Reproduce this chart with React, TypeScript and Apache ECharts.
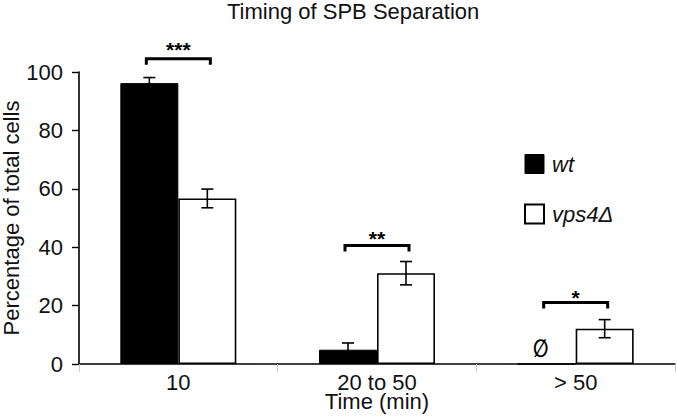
import React, { useEffect, useRef } from "react";
import * as echarts from "echarts";

const categories = ["10", "20 to 50", "> 50"];
const wtMeans = [96.2, 4.9, 0];
const wtErrors = [1.9, 2.3, 0];
const vpsMeans = [56.7, 31.1, 12.1];
const vpsErrors = [3.2, 4.0, 3.1];
const significance = ["***", "**", "*"];
const bracketLevels = [104.5, 40.6, 21.1];
const starLevels = [109.1, 44.2, 24.0];
const absentMarks = ["", "", "\u2205"];

const FONT = "Liberation Sans, Arial, sans-serif";
const BAR_W = 58;

function errorSeries(name: string, means: number[], errs: number[], side: number) {
  return {
    name,
    type: "custom",
    z: 5,
    clip: false,
    silent: true,
    data: means.map((m, i) => (errs[i] > 0 ? [i, m - errs[i], m + errs[i]] : [i, NaN, NaN])),
    renderItem: (params: any, api: any) => {
      const lo = api.value(1);
      const hi = api.value(2);
      if (isNaN(lo) || isNaN(hi)) return null;
      const c = api.value(0);
      const pLo = api.coord([c, lo]);
      const pHi = api.coord([c, hi]);
      const x = pLo[0] + side * BAR_W / 2;
      const cap = 6;
      const style = { stroke: "#000", lineWidth: 1.6, fill: "none" };
      return {
        type: "group",
        children: [
          { type: "line", shape: { x1: x, y1: pLo[1], x2: x, y2: pHi[1] }, style },
          { type: "line", shape: { x1: x - cap, y1: pHi[1], x2: x + cap, y2: pHi[1] }, style },
          { type: "line", shape: { x1: x - cap, y1: pLo[1], x2: x + cap, y2: pLo[1] }, style },
        ],
      };
    },
  };
}

export default function App() {
  const ref = useRef<HTMLDivElement>(null);
  useEffect(() => {
    if (!ref.current) return;
    const chart = echarts.init(ref.current, null, { renderer: "svg" });
    const option: any = {
      animation: false,
      backgroundColor: "#fff",
      textStyle: { fontFamily: FONT },
      title: {
        text: "Timing of SPB Separation",
        left: 227,
        top: 0,
        padding: 0,
        textStyle: { fontFamily: FONT, fontSize: 22, fontWeight: "normal", color: "#111" },
      },
      legend: {
        orient: "vertical",
        left: 519,
        top: 148,
        itemWidth: 19,
        itemHeight: 19,
        itemGap: 28,
        icon: "rect",
        selectedMode: false,
        textStyle: { fontFamily: FONT, fontSize: 22, fontStyle: "italic", color: "#111", padding: [0, 0, 0, 3] },
        data: [
          { name: "wt", itemStyle: { color: "#000", borderColor: "#000", borderWidth: 1 } },
          { name: "vps4\u0394", itemStyle: { color: "#fff", borderColor: "#000", borderWidth: 2 } },
        ],
      },
      grid: { left: 79, right: 2, top: 72, bottom: 56, containLabel: false, outerBoundsMode: "none" },
      xAxis: {
        type: "category",
        data: categories,
        name: "Time (min)",
        nameLocation: "middle",
        nameGap: 28,
        nameMoveOverlap: false,
        nameTextStyle: { fontFamily: FONT, fontSize: 22, lineHeight: 18, color: "#111" },
        axisLine: { lineStyle: { color: "#000", width: 1.6 } },
        axisTick: { show: true, length: 8, lineStyle: { color: "#ccc", width: 1 } },
        axisLabel: { fontFamily: FONT, fontSize: 22, lineHeight: 18, color: "#111", margin: 9 },
      },
      yAxis: {
        type: "value",
        min: 0,
        max: 100,
        interval: 20,
        name: "Percentage of total cells",
        nameLocation: "middle",
        nameGap: 57,
        nameMoveOverlap: false,
        nameTextStyle: { fontFamily: FONT, fontSize: 22, color: "#111" },
        axisLine: { show: true, lineStyle: { color: "#000", width: 1.6 } },
        axisTick: { show: true, length: 7, lineStyle: { color: "#000", width: 1.4 } },
        axisLabel: { fontFamily: FONT, fontSize: 22, color: "#111", margin: 16 },
        splitLine: { show: false },
      },
      series: [
        {
          name: "wt",
          type: "bar",
          barWidth: BAR_W,
          barGap: "0%",
          data: wtMeans,
          itemStyle: { color: "#000", borderColor: "#000", borderWidth: 1 },
        },
        {
          name: "vps4\u0394",
          type: "bar",
          barWidth: BAR_W,
          barGap: "0%",
          data: vpsMeans,
          itemStyle: { color: "#fff", borderColor: "#000", borderWidth: 1.6 },
        },
        errorSeries("wt error", wtMeans, wtErrors, -1),
        errorSeries("vps4\u0394 error", vpsMeans, vpsErrors, 1),
        {
          name: "significance",
          type: "custom",
          z: 6,
          clip: false,
          silent: true,
          data: categories.map((_, i) => [i, bracketLevels[i], starLevels[i]]),
          renderItem: (params: any, api: any) => {
            const i = params.dataIndex;
            const c = api.value(0);
            const pB = api.coord([c, api.value(1)]);
            const pS = api.coord([c, api.value(2)]);
            const p0 = api.coord([c, 0]);
            const x1 = pB[0] - 32;
            const x2 = pB[0] + 32;
            const y = pB[1];
            const children: any[] = [
              {
                type: "polyline",
                shape: { points: [[x1, y + 6], [x1, y], [x2, y], [x2, y + 6]] },
                style: { stroke: "#000", lineWidth: 3, fill: "none" },
              },
              {
                type: "text",
                x: pS[0],
                y: pS[1] + 4,
                style: {
                  text: significance[i],
                  fontFamily: FONT,
                  fontSize: 21,
                  fontWeight: "bold",
                  fill: "#000",
                  align: "center",
                  verticalAlign: "middle",
                },
              },
            ];
            if (absentMarks[i]) {
              children.push({
                type: "text",
                x: p0[0] - BAR_W / 2 - 6,
                y: p0[1] - 3,
                scaleX: 0.72,
                style: {
                  text: absentMarks[i],
                  fontFamily: "DejaVu Sans",
                  fontSize: 25,
                  fontWeight: "bold",
                  fill: "#000",
                  align: "center",
                  verticalAlign: "bottom",
                },
              });
            }
            return { type: "group", children };
          },
        },
      ],
    };
    chart.setOption(option);
    return () => chart.dispose();
  }, []);
  return (
    <div
      ref={ref}
      style={{ position: "fixed", left: 0, top: 0, width: 677, height: 420 }}
    />
  );
}
